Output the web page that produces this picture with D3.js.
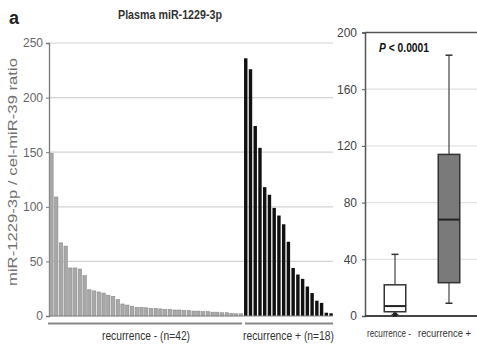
<!DOCTYPE html>
<html>
<head>
<meta charset="utf-8">
<script src="https://cdn.jsdelivr.net/npm/d3@7"></script>
<style>
  body { margin: 0; background: #fff; }
  svg { display: block; font-family: "Liberation Sans", Arial, sans-serif; }
</style>
</head>
<body>
<svg id="chart" width="477" height="347"></svg>
<script>
// --- data ---
const negValues = [149, 109, 67, 64, 44, 44, 43, 37, 24, 23, 22, 21, 19, 18, 15, 11, 10, 9, 8, 8,
  7.5, 7, 7, 6.5, 6, 6, 5.5, 5.5, 5, 5, 4.5, 4.5, 4, 4, 3.5, 3.5, 3, 3, 2.5, 2, 2];
const posValues = [236, 226, 174, 154, 118, 111, 99, 92, 84, 68, 44, 38, 34, 27, 21, 14, 12, 3, 2.5];
const barTicks = [0, 50, 100, 150, 200, 250];
const groupLabels = ["recurrence - (n=42)", "recurrence +  (n=18)"];

const boxGroups = ["recurrence -", "recurrence +"];
const boxMin = [1, 9];
const boxQ1 = [3, 23.5];
const boxMedian = [7, 68];
const boxQ3 = [22, 114];
const boxMax = [43.5, 184];
const boxTicks = [0, 40, 80, 120, 160, 200];

const svg = d3.select("#chart");
const allValues = negValues.concat(posValues);

// --- left panel: ranked bars ---
const y = d3.scaleLinear().domain([0, 250]).range([316, 43]);
const x = d3.scaleBand()
  .domain(d3.range(allValues.length))
  .range([49.5, 333])
  .paddingInner(0.28)
  .paddingOuter(0.05);

// grid lines
svg.append("g").selectAll("line")
  .data(barTicks.filter(d => d > 0))
  .enter().append("line")
  .attr("x1", 49).attr("x2", 333)
  .attr("y1", d => y(d)).attr("y2", d => y(d))
  .attr("stroke", "#d4d4d4").attr("stroke-width", 1.2);

const leftAxis = svg.append("g")
  .attr("transform", "translate(49,0)")
  .call(d3.axisLeft(y).tickValues(barTicks).tickSize(3).tickPadding(3));
leftAxis.select(".domain").attr("stroke", "#777").attr("stroke-width", 1.3);
leftAxis.selectAll(".tick line").attr("stroke", "#777");
leftAxis.selectAll("text").attr("fill", "#666").attr("font-size", 12)
  .attr("font-family", "Liberation Sans, Arial, sans-serif");

svg.append("g").selectAll("rect")
  .data(allValues)
  .enter().append("rect")
  .attr("x", (d, i) => x(i))
  .attr("width", x.bandwidth())
  .attr("y", d => y(d))
  .attr("height", d => y(0) - y(d))
  .attr("fill", (d, i) => i < negValues.length ? "#a8a8a8" : "#111")
  .attr("stroke", (d, i) => i < negValues.length ? "#8a8a8a" : "none")
  .attr("stroke-width", 0.6);

// baseline
svg.append("line")
  .attr("x1", 49).attr("x2", 333).attr("y1", y(0)).attr("y2", y(0))
  .attr("stroke", "#888").attr("stroke-width", 1);

// group brackets under the bars
const split = x(negValues.length);
const brackets = [[48, split - 2], [split + 1, 333]];
svg.append("g").selectAll("line")
  .data(brackets)
  .enter().append("line")
  .attr("x1", d => d[0]).attr("x2", d => d[1])
  .attr("y1", 323.5).attr("y2", 323.5)
  .attr("stroke", "#888").attr("stroke-width", 2.2);

const labelSpans = [[102, 190], [243, 334]];
svg.append("g").selectAll("text")
  .data(groupLabels)
  .enter().append("text")
  .attr("x", (d, i) => labelSpans[i][0])
  .attr("y", 340)
  .attr("font-size", 12.5)
  .attr("fill", "#333")
  .attr("textLength", (d, i) => labelSpans[i][1] - labelSpans[i][0])
  .attr("lengthAdjust", "spacingAndGlyphs")
  .text(d => d);

svg.append("text")
  .attr("transform", "translate(17,172) rotate(-90)")
  .attr("text-anchor", "middle")
  .attr("font-size", 12)
  .attr("fill", "#707070")
  .attr("textLength", 228)
  .attr("lengthAdjust", "spacingAndGlyphs")
  .text("miR-1229-3p / cel-miR-39 ratio");

svg.append("text")
  .attr("x", 118).attr("y", 19)
  .attr("font-size", 12)
  .attr("font-weight", "bold")
  .attr("fill", "#333")
  .attr("textLength", 104)
  .attr("lengthAdjust", "spacingAndGlyphs")
  .text("Plasma miR-1229-3p");

svg.append("text")
  .attr("x", 9).attr("y", 24)
  .attr("font-size", 18)
  .attr("font-weight", "bold")
  .attr("fill", "#222")
  .text("a");

// --- right panel: box plot ---
const yb = d3.scaleLinear().domain([0, 200]).range([316, 32.5]);
const xb = d3.scaleBand().domain(boxGroups).range([368, 476]);
const boxW = 21.5;

svg.append("g").selectAll("line")
  .data(boxTicks.filter(d => d > 0 && d < 200))
  .enter().append("line")
  .attr("x1", 365).attr("x2", 477)
  .attr("y1", d => yb(d)).attr("y2", d => yb(d))
  .attr("stroke", "#e2e2e2").attr("stroke-width", 1.2);

const boxAxis = svg.append("g")
  .attr("transform", "translate(365,0)")
  .call(d3.axisLeft(yb).tickValues(boxTicks).tickSize(3).tickPadding(5));
boxAxis.select(".domain").attr("stroke", "#555").attr("stroke-width", 1.5);
boxAxis.selectAll(".tick line").attr("stroke", "#555");
boxAxis.selectAll("text").attr("fill", "#444").attr("font-size", 12)
  .attr("font-family", "Liberation Sans, Arial, sans-serif");

// frame top / bottom
svg.append("line").attr("x1", 365).attr("x2", 477).attr("y1", yb(200)).attr("y2", yb(200))
  .attr("stroke", "#555").attr("stroke-width", 1.5);
svg.append("line").attr("x1", 365).attr("x2", 477).attr("y1", yb(0)).attr("y2", yb(0))
  .attr("stroke", "#444").attr("stroke-width", 1.8);

const boxLabelSpans = [[367, 411], [418, 471]];
const boxes = svg.append("g").selectAll("g")
  .data(boxGroups)
  .enter().append("g");

boxes.each(function(g, i) {
  const sel = d3.select(this);
  const cx = xb(g) + xb.bandwidth() / 2;
  // whisker
  sel.append("line").attr("x1", cx).attr("x2", cx)
    .attr("y1", yb(boxMax[i])).attr("y2", yb(boxMin[i]))
    .attr("stroke", "#444").attr("stroke-width", 1.2);
  [boxMax[i], boxMin[i]].forEach(v => {
    sel.append("line").attr("x1", cx - 3.5).attr("x2", cx + 3.5)
      .attr("y1", yb(v)).attr("y2", yb(v))
      .attr("stroke", "#333").attr("stroke-width", 1.5);
  });
  sel.append("rect")
    .attr("x", cx - boxW / 2).attr("width", boxW)
    .attr("y", yb(boxQ3[i])).attr("height", yb(boxQ1[i]) - yb(boxQ3[i]))
    .attr("fill", i === 0 ? "#fff" : "#7a7a7a")
    .attr("stroke", "#333").attr("stroke-width", 1.5);
  sel.append("line").attr("x1", cx - boxW / 2).attr("x2", cx + boxW / 2)
    .attr("y1", yb(boxMedian[i])).attr("y2", yb(boxMedian[i]))
    .attr("stroke", "#222").attr("stroke-width", 2);
  sel.append("text")
    .attr("x", boxLabelSpans[i][0]).attr("y", 337)
    .attr("font-size", 10.5)
    .attr("fill", "#333")
    .attr("textLength", boxLabelSpans[i][1] - boxLabelSpans[i][0])
    .attr("lengthAdjust", "spacingAndGlyphs")
    .text(g);
});

// small marker at bottom of first whisker
svg.append("rect")
  .attr("x", xb(boxGroups[0]) + xb.bandwidth() / 2 - 2).attr("y", yb(boxMin[0]) - 2)
  .attr("width", 4).attr("height", 4).attr("fill", "#222");

const pText = svg.append("text")
  .attr("x", 379).attr("y", 52)
  .attr("font-size", 12.5)
  .attr("font-weight", "bold")
  .attr("fill", "#111")
  .attr("textLength", 50)
  .attr("lengthAdjust", "spacingAndGlyphs");
pText.append("tspan").attr("font-style", "italic").text("P");
pText.append("tspan").text(" < 0.0001");
</script>
</body>
</html>
